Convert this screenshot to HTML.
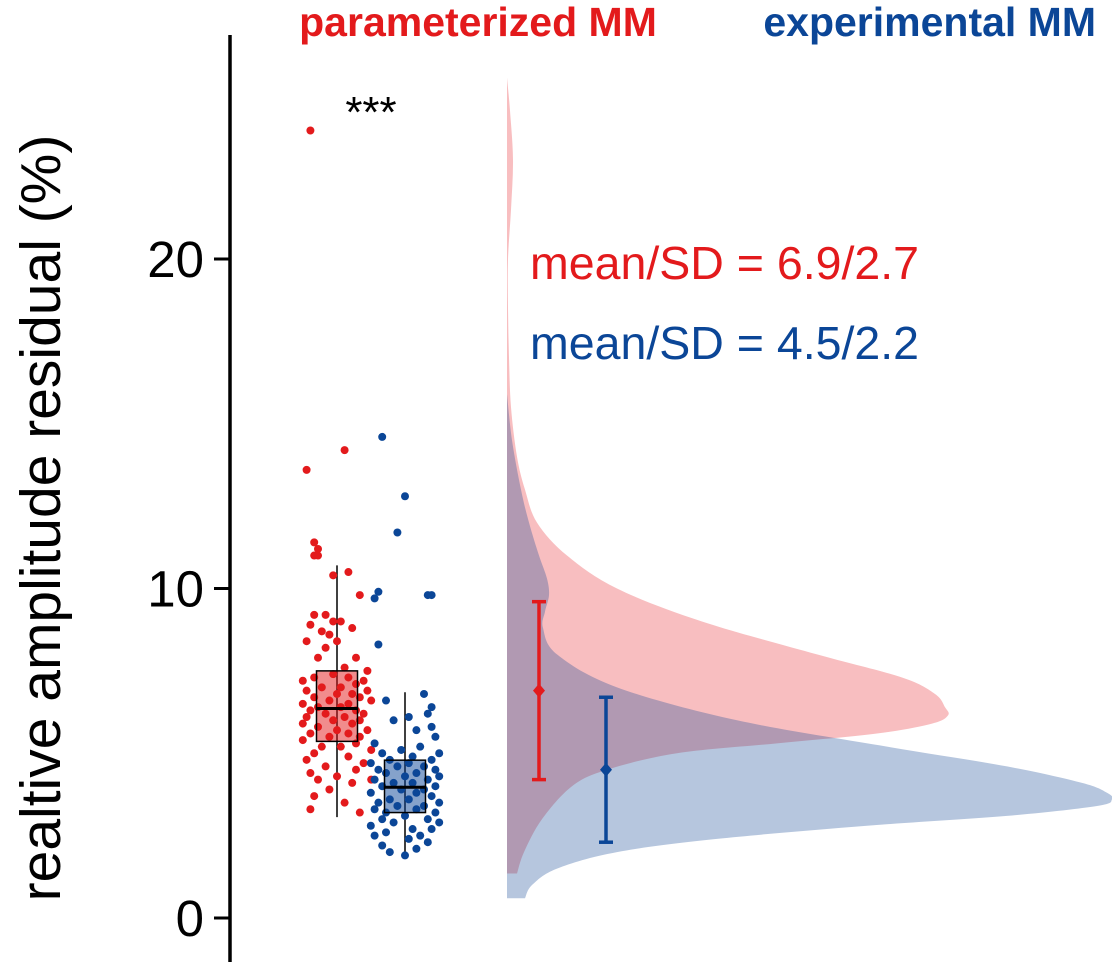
<!DOCTYPE html>
<html><head><meta charset="utf-8"><style>
body{margin:0;background:#fff}
svg text{font-family:"Liberation Sans",sans-serif}
</style></head><body>
<svg id="c" width="1112" height="964"></svg>
<script>
const groups=['parameterized MM','experimental MM'];
const colors=['#e31a1c','#0b4697'];
const yTicks=[0,10,20];
const means=[6.9,4.5];
const sds=[2.7,2.2];
const errLo=[4.2,2.3];
const errHi=[9.6,6.7];
const boxQ1=[5.36,3.2],boxMed=[6.36,3.97],boxQ3=[7.5,4.79],whLo=[3.06,1.85],whHi=[10.7,6.85];
const redVals=[23.9,14.2,13.6,11.4,11.2,11.0,11.0,10.5,10.4,9.8,9.2,9.2,9.0,9.0,8.9,8.8,8.7,8.6,8.4,8.4,8.2,7.9,7.9,7.6,7.5,7.4,7.3,7.3,7.2,7.2,7.1,7.0,7.0,6.9,6.9,6.8,6.8,6.7,6.7,6.6,6.6,6.5,6.5,6.4,6.4,6.3,6.3,6.2,6.2,6.1,6.1,6.0,6.0,5.9,5.9,5.8,5.7,5.7,5.6,5.6,5.5,5.5,5.4,5.3,5.2,5.2,5.1,5.0,4.9,4.8,4.7,4.6,4.5,4.4,4.3,4.2,4.2,4.1,3.9,3.7,3.5,3.3,3.2];
const redJit=[-0.7,0.2,-0.8,-0.6,-0.5,-0.6,-0.5,0.3,-0.1,0.6,-0.6,-0.3,-0.1,0.1,-0.7,0.4,-0.4,-0.2,-0.8,0.0,-0.3,-0.5,0.5,0.2,0.8,-0.1,-0.6,0.3,0.7,-0.9,0.5,0.1,-0.4,0.8,-0.8,0.0,0.4,-0.6,0.6,-0.2,0.9,-0.9,0.3,-0.5,0.1,-0.7,0.5,-0.3,0.7,-0.8,0.2,-0.1,0.6,-0.9,0.4,-0.5,0.0,0.8,-0.7,0.3,-0.2,0.6,-0.9,0.5,-0.4,0.1,0.9,-0.6,0.3,-0.8,0.7,-0.3,0.5,-0.7,0.0,0.9,-0.5,0.4,-0.2,-0.6,0.2,-0.7,0.6];
const blueVals=[14.6,12.8,11.7,9.9,9.8,9.8,9.7,8.3,6.8,6.6,6.4,6.2,6.1,6.0,5.8,5.7,5.5,5.3,5.2,5.1,5.0,5.0,4.9,4.8,4.8,4.7,4.7,4.6,4.6,4.5,4.5,4.4,4.4,4.3,4.3,4.2,4.2,4.1,4.1,4.0,4.0,3.9,3.9,3.8,3.8,3.7,3.6,3.6,3.5,3.5,3.4,3.4,3.3,3.3,3.2,3.2,3.1,3.0,3.0,2.9,2.9,2.8,2.7,2.7,2.6,2.5,2.5,2.4,2.3,2.2,2.1,2.0,1.9];
const blueJit=[-0.6,0.0,-0.2,-0.7,0.6,0.7,-0.8,-0.7,0.5,-0.5,0.7,0.6,0.1,-0.3,0.7,0.3,0.8,-0.8,0.4,-0.1,0.9,-0.6,0.2,-0.4,0.7,-0.9,0.1,0.5,-0.2,-0.7,0.8,0.3,-0.5,0.0,0.9,-0.8,0.6,-0.3,0.2,-0.6,0.8,-0.1,0.5,-0.9,0.3,0.7,-0.4,0.1,-0.7,0.9,-0.2,0.5,-0.8,0.3,-0.5,0.8,0.0,-0.6,0.6,-0.3,0.9,-0.9,0.2,0.7,-0.5,0.4,-0.8,0.1,0.6,-0.6,0.3,-0.4,0.0];
const redDenV=[25.5,24.5,23,21.5,20,18.5,17,15.5,14,13,12,11,10,9,8,7.3,6.8,6.4,6.15,5.9,5.6,5.3,5,4.5,4,3,2,1.35];
const redDenW=[0,3,6,4,1,1,2,4,10,18,30,60,110,195,310,395,428,438,441,425,370,270,170,100,65,35,17,10];
const blueDenV=[15.9,14.5,13,12,11,10.3,9.8,9.3,8.8,8,7,6,5.2,4.6,4.1,3.8,3.6,3.4,3.1,2.8,2.4,2,1.5,1,0.6];
const blueDenW=[0,5,14,22,32,40,42,38,36,50,110,230,380,500,575,600,605,590,500,360,210,110,50,25,18];

const svg=document.getElementById('c');const NS='http://www.w3.org/2000/svg';
function y(v){return 918-v*32.95;}
const gx=[337,405],den0=507,errX=[539,606];
function el(t,a,p){const e=document.createElementNS(NS,t);for(const k in a)e.setAttribute(k,a[k]);(p||svg).appendChild(e);return e;}
function smooth(pts){let d='';for(let i=0;i<pts.length-1;i++){const p0=pts[Math.max(0,i-1)],p1=pts[i],p2=pts[i+1],p3=pts[Math.min(pts.length-1,i+2)];
 const c1=[p1[0]+(p2[0]-p0[0])/6,p1[1]+(p2[1]-p0[1])/6],c2=[p2[0]-(p3[0]-p1[0])/6,p2[1]-(p3[1]-p1[1])/6];
 d+=` C${c1[0]},${c1[1]} ${c2[0]},${c2[1]} ${p2[0]},${p2[1]}`;}return d;}
[[redDenV,redDenW,'rgba(232,40,48,0.3)','density-parameterized'],[blueDenV,blueDenW,'rgba(20,70,150,0.31)','density-experimental']].forEach(d=>{
 const pts=d[0].map((v,i)=>[den0+d[1][i],y(v)]);
 let p='M'+pts[0][0]+','+pts[0][1]+smooth(pts);
 p+=' L'+den0+','+y(d[0][d[0].length-1])+'Z';
 const e=el('path',{d:p,fill:d[2]});
 
 
});
const ax=el('line',{x1:230,y1:35,x2:230,y2:962,stroke:'#000','stroke-width':3.5});

yTicks.forEach(t=>{
 const l=el('line',{x1:214,x2:230,y1:y(t),y2:y(t),stroke:'#000','stroke-width':3});
 
 const tx=el('text',{x:204,y:y(t)+18,'text-anchor':'end','font-size':51});tx.textContent=t;
 
});
const yt=el('text',{transform:'translate(60,518) rotate(-90)','text-anchor':'middle','font-size':57});yt.textContent='realtive amplitude residual (%)';

const boxFill=['rgba(227,26,28,0.5)','rgba(11,70,151,0.5)'];
[[redVals,redJit],[blueVals,blueJit]].forEach((g,i)=>{
 const wl=el('line',{x1:gx[i],x2:gx[i],y1:y(whHi[i]),y2:y(whLo[i]),stroke:'#000','stroke-width':1.5});
 
 g[0].forEach((v,j)=>{
  const c=el('circle',{cx:gx[i]+g[1][j]*38,cy:y(v),r:4,fill:colors[i]});
  
 });
 const b=el('rect',{x:gx[i]-20.5,width:41,y:y(boxQ3[i]),height:y(boxQ1[i])-y(boxQ3[i]),fill:boxFill[i],stroke:'#000','stroke-width':1.5});
 
 const m=el('line',{x1:gx[i]-20.5,x2:gx[i]+20.5,y1:y(boxMed[i]),y2:y(boxMed[i]),stroke:'#000','stroke-width':3});
 
 const e1=el('line',{x1:errX[i],x2:errX[i],y1:y(errHi[i]),y2:y(errLo[i]),stroke:colors[i],'stroke-width':3.5});
 
 [errHi[i],errLo[i]].forEach(v=>{const c=el('line',{x1:errX[i]-7,x2:errX[i]+7,y1:y(v),y2:y(v),stroke:colors[i],'stroke-width':3.5});
  });
 const mp=el('path',{d:`M${errX[i]},${y(means[i])-7} l6,7 l-6,7 l-6,-7z`,fill:colors[i]});
 
 const st=el('text',{x:530,y:[279,359][i],'font-size':46.5,fill:colors[i]});st.textContent='mean/SD = '+means[i]+'/'+sds[i];
 
});
const l1=el('text',{x:478,y:36,'text-anchor':'middle','font-size':41,'font-weight':'bold',fill:colors[0]});l1.textContent=groups[0];

const l2=el('text',{x:1096,y:36,'text-anchor':'end','font-size':41,'font-weight':'bold',fill:colors[1]});l2.textContent=groups[1];

const s=el('text',{x:371,y:127,'text-anchor':'middle','font-size':44});s.textContent='***';

</script>
</body></html>
